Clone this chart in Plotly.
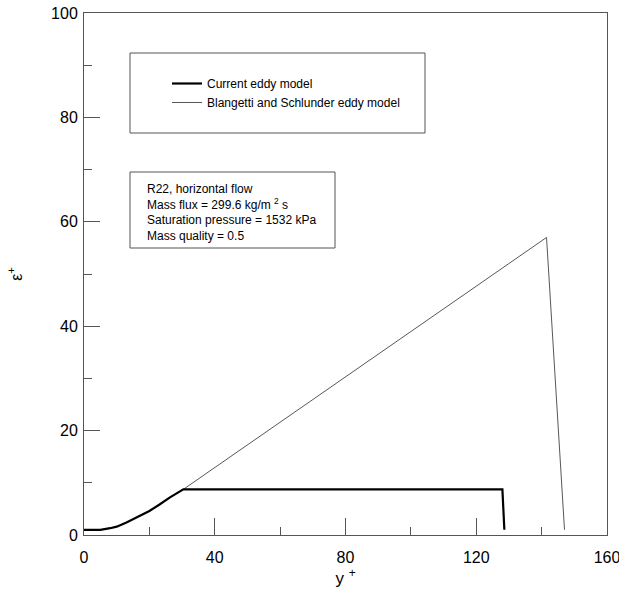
import plotly.graph_objects as go

# Data
near_wall_yplus = [0, 5, 8, 10, 13, 16, 20, 23, 26.3, 30.4]
near_wall_eps = [1.0, 1.0, 1.3, 1.6, 2.4, 3.3, 4.6, 5.8, 7.2, 8.75]

current_tail_yplus = [128.0, 128.6]
current_tail_eps = [8.75, 1.0]

blangetti_tail_yplus = [141.5, 147.0]
blangetti_tail_eps = [57.0, 1.0]

current_x = near_wall_yplus + current_tail_yplus
current_y = near_wall_eps + current_tail_eps
blangetti_x = near_wall_yplus + blangetti_tail_yplus
blangetti_y = near_wall_eps + blangetti_tail_eps

FONT = "Liberation Sans, Arial, sans-serif"
W, H = 619, 590
ML, MR, MT, MB = 84, 12, 13, 55
PW = W - ML - MR
PH = H - MT - MB

def px(xp):
    return (xp - ML) / PW

def py(yp):
    return (H - MB - yp) / PH

fig = go.Figure()
fig.add_trace(go.Scatter(x=blangetti_x, y=blangetti_y, mode="lines",
                         name="Blangetti and Schlunder eddy model",
                         line=dict(color="#444444", width=0.9)))
fig.add_trace(go.Scatter(x=current_x, y=current_y, mode="lines",
                         name="Current eddy model",
                         line=dict(color="black", width=2.2)))

axis_common = dict(showline=True, linecolor="#555555", linewidth=1, mirror=True,
                   showgrid=False, zeroline=False, ticks="inside", automargin=False,
                   tickcolor="#555555", tickwidth=1, ticklabeloverflow="allow",
                   tickfont=dict(family=FONT, size=16, color="black"))

fig.update_xaxes(range=[0, 160], dtick=40, tick0=0, ticklen=17, ticklabelstandoff=8,
                 minor=dict(ticks="inside", dtick=20, ticklen=8, tickcolor="#555555"),
                 title=dict(text="y <sup>+</sup>", font=dict(family=FONT, size=17, color="black"),
                            standoff=2),
                 **axis_common)
fig.update_yaxes(range=[0, 100], dtick=20, tick0=0, ticklen=16, ticklabelstandoff=2,
                 minor=dict(ticks="inside", dtick=10, ticklen=8, tickcolor="#555555"),
                 title=dict(text="ε<sup>+</sup>", font=dict(family=FONT, size=16, color="black"),
                            standoff=24),
                 **axis_common)

# legend frame
fig.add_shape(type="rect", xref="paper", yref="paper",
              x0=px(130), x1=px(425), y0=py(133), y1=py(53),
              line=dict(color="#555555", width=1))
# info box frame
fig.add_shape(type="rect", xref="paper", yref="paper",
              x0=px(130), x1=px(335), y0=py(248), y1=py(172),
              line=dict(color="#555555", width=1))

fig.add_annotation(xref="paper", yref="paper", x=px(145), y=py(212),
                   xanchor="left", yanchor="middle", align="left", showarrow=False,
                   text="R22, horizontal flow<br>Mass flux = 299.6 kg/m <sup>2</sup> s<br>"
                        "Saturation pressure = 1532 kPa<br>Mass quality = 0.5",
                   font=dict(family=FONT, size=12, color="black"))

fig.update_layout(
    width=W, height=H,
    margin=dict(l=ML, r=MR, t=MT, b=MB, autoexpand=False),
    plot_bgcolor="white", paper_bgcolor="white",
    font=dict(family=FONT, color="black"),
    legend=dict(x=px(167), y=py(69), xanchor="left", yanchor="top",
                bgcolor="rgba(0,0,0,0)", borderwidth=0, traceorder="reversed",
                font=dict(family=FONT, size=12, color="black")),
)

fig.write_html("out.html")
